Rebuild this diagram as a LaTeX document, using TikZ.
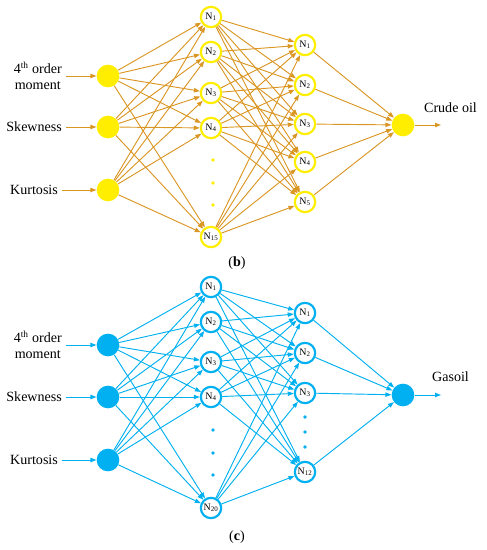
\documentclass[tikz,border=0pt]{standalone}
\usepackage{fontspec}
\setmainfont{Liberation Serif}
\usetikzlibrary{arrows.meta}
\definecolor{oilyellow}{RGB}{255,238,0}
\definecolor{oilorange}{RGB}{218,150,35}
\definecolor{gasblue}{RGB}{0,176,240}
\tikzset{
  innode/.style={circle, fill=#1, draw=none, minimum size=6.8mm, inner sep=0pt},
  hidnode/.style={circle, draw=#1, line width=0.65mm, fill=white,
                  minimum size=6.1mm, inner sep=0pt,
                  font=\fontsize{8.5}{9}\selectfont},
  conn/.style={-{Triangle[length=1.8mm,width=1.3mm]}, line width=0.28mm, color=#1},
  inlbl/.style={font=\fontsize{12}{14}\selectfont, align=center, anchor=east},
  outlbl/.style={font=\fontsize{12}{14}\selectfont, anchor=west},
  caplbl/.style={font=\fontsize{12}{14}\selectfont},
}
\begin{document}
\begin{tikzpicture}[x=0.3mm, y=-0.3mm]
  \useasboundingbox (0,0) rectangle (486,550);

  % (b) crude oil network
  \foreach \i/\y in {1/76,2/127,3/190}
    \node[innode=oilyellow] (bi\i) at (108,\y) {};
  \foreach \n/\y in {1/17,2/52,3/93,4/128,15/237}
    \node[hidnode=oilyellow] (bh\n) at (211,\y) {N\textsubscript{\n}};
  \foreach \y in {160,183,205}
    \fill[oilyellow] (213,\y) circle (0.55mm);
  \foreach \m/\y in {1/45,2/85,3/124,4/162,5/202}
    \node[hidnode=oilyellow] (bk\m) at (305,\y) {N\textsubscript{\m}};
  \node[innode=oilyellow] (bo) at (403,125) {};
  \coordinate (bend) at (441,125);

  \node[inlbl] (bl1) at (66,76) {4\textsuperscript{th} order\\moment};
  \node[inlbl] (bl2) at (66,127) {Skewness};
  \node[inlbl] (bl3) at (62,190) {Kurtosis};
  \node[outlbl] (bout) at (420,108) {Crude oil};
  \node[caplbl] (bcap) at (237,263) {(\textbf{b})};

  \foreach \i in {1,2,3} {
    \draw[conn=oilorange] (bl\i) -- (bi\i);
    \foreach \n in {1,2,3,4,15}
      \draw[conn=oilorange] (bi\i) -- (bh\n);
  }
  \foreach \n in {1,2,3,4,15}
    \foreach \m in {1,...,5}
      \draw[conn=oilorange] (bh\n) -- (bk\m);
  \foreach \m in {1,...,5}
    \draw[conn=oilorange] (bk\m) -- (bo);
  \draw[conn=oilorange] (bo) -- (bend);

  % (c) gasoil network
  \foreach \i/\y in {1/345,2/397,3/460}
    \node[innode=gasblue] (ci\i) at (108,\y) {};
  \foreach \n/\y in {1/287,2/322,3/362,4/397,20/508}
    \node[hidnode=gasblue] (ch\n) at (211,\y) {N\textsubscript{\n}};
  \foreach \y in {430,453,475}
    \fill[gasblue] (213,\y) circle (0.55mm);
  \foreach \m/\y in {1/313,2/353,3/393,12/472}
    \node[hidnode=gasblue] (ck\m) at (305,\y) {N\textsubscript{\m}};
  \foreach \y in {417,432,447}
    \fill[gasblue] (305,\y) circle (0.55mm);
  \node[innode=gasblue] (co) at (403,395) {};
  \coordinate (cend) at (441,395);

  \node[inlbl] (cl1) at (66,345) {4\textsuperscript{th} order\\moment};
  \node[inlbl] (cl2) at (66,397) {Skewness};
  \node[inlbl] (cl3) at (62,460) {Kurtosis};
  \node[outlbl] (cout) at (428,377) {Gasoil};
  \node[caplbl] (ccap) at (237,537) {(\textbf{c})};

  \foreach \i in {1,2,3} {
    \draw[conn=gasblue] (cl\i) -- (ci\i);
    \foreach \n in {1,2,3,4,20}
      \draw[conn=gasblue] (ci\i) -- (ch\n);
  }
  \foreach \n in {1,2,3,4,20}
    \foreach \m in {1,2,3,12}
      \draw[conn=gasblue] (ch\n) -- (ck\m);
  \foreach \m in {1,2,3,12}
    \draw[conn=gasblue] (ck\m) -- (co);
  \draw[conn=gasblue] (co) -- (cend);
\end{tikzpicture}
\end{document}
